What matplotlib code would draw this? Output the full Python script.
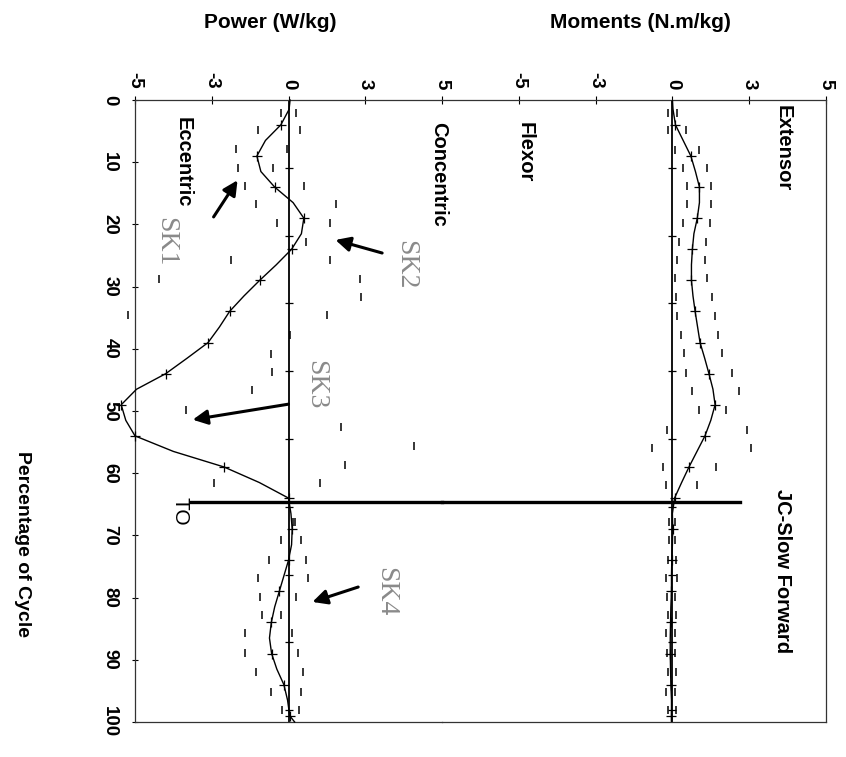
import matplotlib.pyplot as plt

plt.rcParams['font.family'] = ['Liberation Sans', 'DejaVu Sans']

# percent of gait cycle where the mean curves are read
cycle = [0, 1.5, 4, 6.5, 9, 11.5, 14, 16.5, 19, 21.5,
         24, 26.5, 29, 31.5, 34, 36.5, 39, 41.5, 44,
         46.5, 49, 51.5, 54, 56.5, 59, 61.5, 64, 66.5, 69,
         71.5, 74, 76.5, 79, 81.5, 84, 86.5, 89, 91.5, 94,
         96.5, 99, 100]

power_mean = [0.05, 0.02, -0.25, -0.75, -1.03, -0.9, -0.45, 0.15, 0.5, 0.42,
              0.1, -0.4, -0.94, -1.45, -1.92, -2.25, -2.62, -3.3, -4.0,
              -4.95, -5.45, -5.3, -5.0, -3.75, -2.1, -0.95, 0.0, 0.08, 0.12,
              0.1, 0.0, -0.15, -0.3, -0.45, -0.56, -0.62, -0.55, -0.38, -0.15,
              -0.03, 0.04, 0.2]

moment_mean = [0.0, 0.02, 0.1, 0.35, 0.6, 0.75, 0.88, 0.88, 0.81, 0.7,
               0.65, 0.62, 0.62, 0.67, 0.74, 0.82, 0.9, 1.05, 1.19,
               1.32, 1.39, 1.25, 1.06, 0.8, 0.54, 0.3, 0.07, 0.0, 0.01,
               0.0, -0.02, -0.03, -0.03, -0.05, -0.06, -0.07, -0.07, -0.06, -0.05,
               -0.03, -0.03, -0.03]

# +/- 1 SD dashes
power_hi_pct = [2.1, 4.8, 7.8, 11.0, 13.8, 16.7, 19.8, 22.8, 25.7, 28.8,
                31.6, 34.6, 37.8, 40.8, 43.7, 46.7, 49.8, 52.5, 55.7, 58.7,
                61.6, 67.8, 70.7, 74.0, 76.9, 79.9, 82.8, 85.7, 88.9, 91.9,
                95.1, 98.1]
power_hi = [0.23, 0.37, -0.06, -0.5, 0.5, 1.56, 1.36, 0.58, 1.36, 2.34,
            2.37, 1.26, 0.06, -0.58, -0.53, -1.2, -3.34, 1.71, 4.1, 1.85,
            1.02, 0.2, 0.41, 0.58, 0.62, 0.25, -0.23, 0.12, 0.3, 0.47,
            0.42, 0.33]
power_lo_pct = [2.1, 4.8, 7.8, 11.0, 13.8, 16.7, 19.8, 25.7, 28.8, 34.6,
                61.6, 67.8, 70.7, 74.0, 76.9, 79.9, 82.8, 85.7, 88.9, 91.9,
                95.1, 98.1]
power_lo = [-0.26, -0.98, -1.72, -1.63, -1.42, -1.07, -0.39, -1.88, -4.21, -5.24,
            -2.42, 0.15, -0.26, -0.64, -1.0, -0.94, -0.86, -1.42, -1.42, -1.07,
            -0.58, -0.2]

moment_sd_pct = [2.1, 4.8, 8.0, 11.0, 13.8, 16.8, 19.8, 22.8, 25.7, 28.6,
                 31.6, 34.8, 37.8, 40.7, 43.9, 46.8, 49.8, 53.1, 56.0, 59.0,
                 61.9, 67.8, 70.7, 74.0, 76.9, 79.9, 82.8, 85.7, 88.9, 91.9,
                 95.1, 98.1]
moment_hi = [0.16, 0.43, 0.85, 1.14, 1.27, 1.25, 1.22, 1.09, 1.05, 1.14,
             1.28, 1.38, 1.47, 1.6, 1.95, 2.17, 1.74, 2.44, 2.55, 1.43,
             0.81, 0.1, 0.08, 0.12, 0.15, 0.1, 0.12, 0.08, 0.1, 0.12,
             0.1, 0.12]
moment_lo = [-0.13, -0.13, 0.09, 0.35, 0.49, 0.49, 0.35, 0.22, 0.16, 0.08,
             0.11, 0.16, 0.27, 0.38, 0.43, 0.63, 0.85, -0.16, -0.65, -0.3,
             -0.22, -0.12, -0.1, -0.15, -0.2, -0.18, -0.15, -0.2, -0.18, -0.15,
             -0.2, -0.15]

# small cross ticks on the zero lines
zero_marks = [10.9, 21.8, 32.7, 43.6, 54.5, 65.4, 76.3, 87.2, 98.1]

toe_off = 64.7
value_ticks = [-5, -2.5, 0, 2.5, 5]
value_labels = ['-5', '-3', '0', '3', '5']
pct_ticks = [0, 10, 20, 30, 40, 50, 60, 70, 80, 90, 100]

W, H = 846, 757
fig = plt.figure(figsize=(W / 100, H / 100), dpi=100)

def fx(px):
    return px / W

def fy(py):
    return 1 - py / H

ax_p = fig.add_axes([fx(135), fy(722), fx(442) - fx(135), fy(100) - fy(722)])
ax_m = fig.add_axes([fx(442), fy(722), fx(826) - fx(442), fy(100) - fy(722)], sharey=ax_p)
ax_p.set_xlim(-5, 5)
ax_m.set_xlim(-7.5, 5)
ax_p.set_ylim(100, 0)

for ax in (ax_p, ax_m):
    ax.set_facecolor('none')
    for s in ax.spines.values():
        s.set_linewidth(0.9)
        s.set_color('#333333')
    ax.xaxis.tick_top()
    ax.set_xticks(value_ticks)
    ax.set_xticklabels(value_labels, fontweight='bold', fontsize=13.5)
    ax.tick_params(axis='x', direction='inout', length=6, width=0.8, pad=5,
                   labelrotation=-90)
    ax.axvline(0, color='black', lw=1.3, zorder=2)
    ax.plot([0] * len(zero_marks), zero_marks, ls='none', marker='_',
            ms=6, mew=0.9, color='black')

ax_p.spines['right'].set_visible(False)
ax_m.spines['left'].set_visible(False)
ax_m.tick_params(axis='y', left=False, labelleft=False)

ax_p.set_yticks(pct_ticks)
ax_p.set_yticklabels([str(t) for t in pct_ticks], fontweight='bold', fontsize=13.5)
ax_p.tick_params(axis='y', direction='inout', length=4, width=0.8, pad=10,
                 labelrotation=-90)
for lbl in ax_p.get_yticklabels():
    lbl.set_va('center')

# mean curves
ax_p.plot(power_mean, cycle, color='black', lw=1.0, marker='+', ms=7, mew=0.9,
          markevery=slice(2, 41, 2), clip_on=False, zorder=3)
ax_m.plot(moment_mean, cycle, color='black', lw=1.0, marker='+', ms=7, mew=0.9,
          markevery=slice(2, 41, 2), zorder=3)

# SD dashes
ax_p.plot(power_hi, power_hi_pct, ls='none', marker='|', ms=5.5, mew=1.1,
          color='black', clip_on=False)
ax_p.plot(power_lo, power_lo_pct, ls='none', marker='|', ms=5.5, mew=1.1,
          color='black', clip_on=False)
ax_m.plot(moment_hi, moment_sd_pct, ls='none', marker='|', ms=5.5, mew=1.1,
          color='black')
ax_m.plot(moment_lo, moment_sd_pct, ls='none', marker='|', ms=5.5, mew=1.1,
          color='black')

# toe-off line across both panels
ax_p.plot([-3.18, 5], [toe_off, toe_off], color='black', lw=2.4, clip_on=False)
ax_m.plot([-7.5, 2.2], [toe_off, toe_off], color='black', lw=2.4, clip_on=False)
ax_p.text(-3.52, toe_off + 1.4, 'TO', rotation=-90, fontsize=15,
          ha='center', va='center')

# titles and labels
fig.text(fx(270), fy(22), 'Power (W/kg)', fontsize=15, fontweight='bold',
         ha='center', va='center')
fig.text(fx(640), fy(22), 'Moments (N.m/kg)', fontsize=15, fontweight='bold',
         ha='center', va='center')
fig.text(fx(22), fy(637), 'Percentage of Cycle', fontsize=14, fontweight='bold',
         rotation=-90, ha='center', va='bottom')

inner = [(ax_p, -3.42, 2.8, 'Eccentric'),
         (ax_p, 4.9, 3.5, 'Concentric'),
         (ax_m, -4.8, 3.5, 'Flexor'),
         (ax_m, 3.6, 0.8, 'Extensor'),
         (ax_m, 3.6, 62.5, 'JC-Slow Forward')]
for ax, x, y, s in inner:
    ax.text(x, y, s, fontsize=14.5, fontweight='bold', rotation=-90,
            ha='center', va='top')

# phase labels with arrows
phases = [('SK1', (-4.0, 22.8), (-2.44, 18.8), (-1.66, 12.9)),
          ('SK2', (3.8, 26.5), (3.05, 24.6), (1.53, 22.5)),
          ('SK3', (0.88, 45.8), (0.0, 48.9), (-3.12, 51.4)),
          ('SK4', (3.15, 79.1), (2.27, 78.3), (0.78, 80.7))]
for name, txt, tail, head in phases:
    ax_p.text(txt[0], txt[1], name, family=['Liberation Serif', 'DejaVu Serif'],
              fontsize=20, color='#8a8a8a', rotation=-90, ha='center', va='center')
    ax_p.annotate('', xy=head, xytext=tail,
                  arrowprops=dict(arrowstyle='-|>', lw=2.2, color='black',
                                  mutation_scale=22, shrinkA=0, shrinkB=0))

fig.savefig('out.png', dpi=100)
